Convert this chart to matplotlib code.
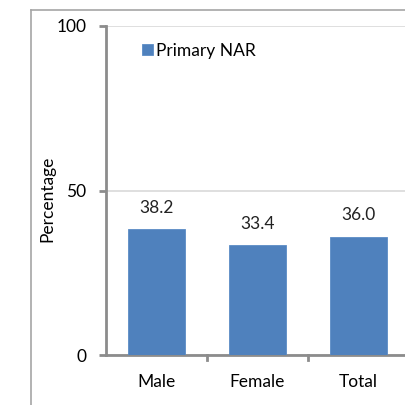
import matplotlib
matplotlib.use("Agg")
import matplotlib.pyplot as plt
from matplotlib.lines import Line2D

categories = ["Male", "Female", "Total"]
values = [38.2, 33.4, 36.0]
series_name = "Primary NAR"
yticks = [0, 50, 100]

plt.rcParams['font.family'] = ['Lato', 'DejaVu Sans']
FS = 12.5

fig = plt.figure(figsize=(4.05, 4.05), dpi=100)
W = H = 405.0

# chart border frame (cropped)
fig.add_artist(Line2D([31/W, 31/W], [0, 1 - 10/H], transform=fig.transFigure, color='#a6a6a6', lw=1.2))
fig.add_artist(Line2D([31/W, 1.0], [1 - 10/H, 1 - 10/H], transform=fig.transFigure, color='#a6a6a6', lw=1.2))

ax = fig.add_axes([106/W, 1 - 355/H, (409 - 106)/W, (355 - 26)/H])
x = range(len(categories))
ax.bar(x, values, width=0.56, color='#4F81BD', edgecolor='#5b8cc6', lw=0.6,
       label=series_name, zorder=3)
for xi, v in zip(x, values):
    ax.text(xi, v + 4.0, f"{v:.1f}", ha='center', va='bottom', fontsize=FS, color='#222222')

ax.set_xlim(-0.5, len(categories) - 0.5)
ax.set_ylim(0, 100)
ax.set_yticks(yticks)
ax.set_yticklabels([str(t) for t in yticks], fontsize=FS)
ax.set_xticks(list(x))
ax.set_xticklabels(categories, fontsize=FS)
ax.tick_params(axis='x', length=0, pad=14)
ax.tick_params(axis='y', length=5, width=2, color='#8c8c8c', pad=9)
for b in [0.5, 1.5, 2.5]:
    ax.plot([b, b], [0, -1.6], color='#8c8c8c', lw=2, clip_on=False, zorder=4)
ax.grid(axis='y', color='#d9d9d9', lw=1.2, zorder=0)
for s in ['top', 'right']:
    ax.spines[s].set_visible(False)
ax.spines['left'].set_color('#8c8c8c')
ax.spines['left'].set_linewidth(2)
ax.spines['bottom'].set_color('#8c8c8c')
ax.spines['bottom'].set_linewidth(2)
ax.set_ylabel("Percentage", fontsize=FS)
ax.yaxis.set_label_coords((55 - 106) / 303, (355 - 199) / 329)

ax.legend(loc='upper left', bbox_to_anchor=(0.08, 0.985), frameon=False, fontsize=FS,
          handlelength=0.6, handleheight=0.6, handletextpad=0.2, borderaxespad=0.3)

fig.savefig("out.png", dpi=100)
